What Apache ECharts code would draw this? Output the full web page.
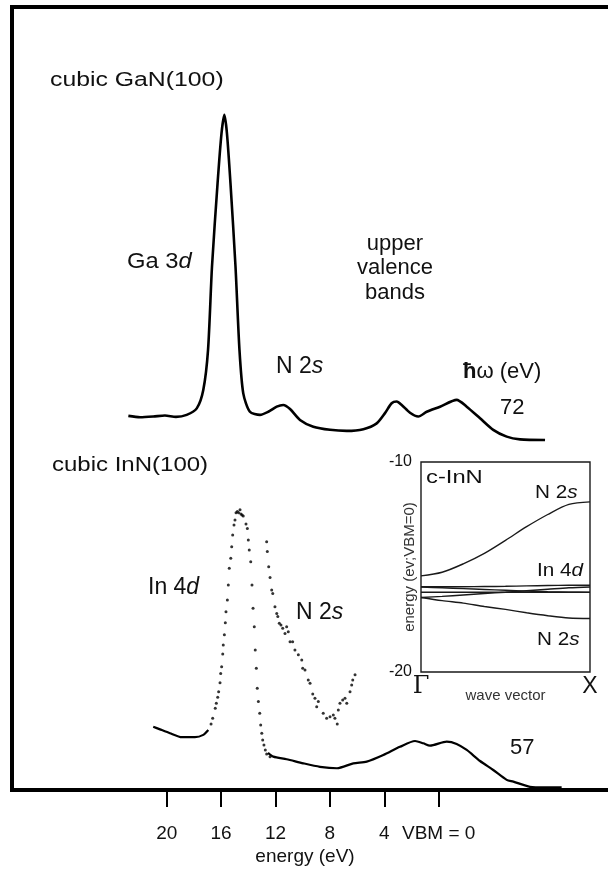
<!DOCTYPE html>
<html>
<head>
<meta charset="utf-8">
<script src="https://cdn.jsdelivr.net/npm/echarts@6/dist/echarts.min.js"></script>
<style>
html, body { margin: 0; padding: 0; background: #fff; }
#chart { width: 608px; height: 874px; }
</style>
</head>
<body>
<div id="chart"></div>
<script>
const FONT = "'Liberation Sans', Arial, Helvetica, sans-serif";

// Binding-energy axis (eV below the valence band maximum)
const energyTicks = [0, 4, 8, 12, 16, 20];

// cubic GaN(100), photon energy 72 eV
const ganEnergy = [22.82, 21.96, 20.99, 20.13, 19.32, 18.53, 17.79, 17.31, 16.96, 16.67,
  16.26, 15.97, 15.76, 15.57, 15.31, 14.94, 14.65, 14.37, 13.88, 13.14,
  12.53, 11.91, 11.43, 10.93, 10.20, 9.22, 7.99, 6.76, 5.54, 4.56,
  3.95, 3.46, 3.09, 2.72, 2.11, 1.50, 0.88, -0.10, -1.32, -2.06,
  -3.04, -4.01, -5.00, -5.98, -7.82];
const ganCounts = [9.9, 9.5, 9.7, 10.0, 9.6, 10.2, 12.1, 17.5, 29.3, 53.7,
  78.2, 92.9, 98.3, 92.9, 78.2, 53.7, 29.3, 16.5, 11.1, 10.2,
  11.1, 12.6, 13.1, 11.9, 8.7, 6.7, 5.8, 5.5, 6.0, 7.7,
  10.7, 13.6, 14.1, 13.1, 10.8, 9.7, 11.1, 12.6, 14.6, 12.6,
  9.2, 5.8, 3.8, 3.0, 2.8];

// cubic InN(100), photon energy 57 eV: baseline before the In 4d peak
const innLowEnergy = [20.99, 20.49, 19.76, 18.90, 17.92, 17.31, 16.94];
const innLowCounts = [21.8, 20.9, 19.6, 18.2, 18.2, 19.0, 20.7];

// In 4d peak (individual points)
const innPeakEnergy = [16.74, 16.62, 16.43, 16.35, 16.25, 16.18, 16.08, 16.03, 15.96, 15.88,
  15.84, 15.76, 15.69, 15.64, 15.54, 15.47, 15.40, 15.29, 15.22, 15.15,
  15.05, 14.98, 14.90, 14.81, 14.71, 14.61, 14.54, 14.46, 14.37, 14.17,
  14.07, 14.00, 13.93, 13.82, 13.73, 13.65, 13.56, 13.49, 13.41, 13.34,
  13.26, 13.16, 13.09, 13.01, 12.94, 12.85, 12.75, 12.65, 12.40];
const innPeakCounts = [22.8, 24.7, 28.2, 29.9, 32.0, 33.9, 37.0, 40.2, 42.5, 46.9,
  50.0, 53.5, 57.7, 61.5, 65.5, 70.7, 76.5, 79.9, 83.9, 87.9,
  91.4, 93.1, 95.6, 96.0, 95.6, 96.6, 95.2, 94.8, 94.5, 91.7,
  90.2, 86.2, 82.8, 78.7, 70.7, 62.7, 56.3, 48.3, 42.0, 35.1,
  30.5, 26.5, 22.4, 19.6, 17.2, 15.5, 13.8, 12.4, 11.5];

// Baseline and upper valence bands after the peak
const innHighEnergy = [12.55, 12.16, 11.18, 9.96, 8.73, 7.48, 6.28, 5.29, 4.07, 2.85,
  1.74, 1.13, 0.64, -0.59, -1.32, -2.06, -3.04, -4.01, -5.00, -5.49,
  -6.71, -7.82, -9.04];
const innHighCounts = [12.8, 11.5, 10.6, 9.2, 8.0, 7.5, 9.2, 9.8, 12.1, 14.9,
  16.9, 16.1, 15.3, 16.7, 15.9, 13.8, 10.0, 6.9, 3.5, 2.9,
  1.1, 0.9, 0.9];

// N 2s region, magnified trace
const n2sEnergy = [12.65, 12.60, 12.50, 12.40, 12.28, 12.20, 12.04, 11.91, 11.83, 11.72,
  11.60, 11.47, 11.30, 11.18, 11.06, 10.93, 10.74, 10.57, 10.32, 10.07,
  10.00, 9.83, 9.59, 9.46, 9.26, 9.10, 8.97, 8.85, 8.49, 8.24,
  7.99, 7.75, 7.63, 7.46, 7.38, 7.26, 7.06, 6.89, 6.76, 6.52,
  6.40, 6.32, 6.15];
const n2sCounts = [85.6, 82.2, 77.0, 73.3, 69.0, 67.8, 63.2, 60.9, 59.8, 57.5,
  56.9, 55.8, 54.0, 56.3, 54.6, 51.1, 51.1, 48.3, 46.6, 44.8,
  42.0, 41.4, 37.9, 36.8, 33.1, 31.6, 28.7, 30.5, 26.5, 24.7,
  25.3, 25.9, 24.7, 22.8, 27.6, 29.9, 31.0, 31.6, 29.9, 33.9,
  36.2, 37.9, 39.7];

// c-InN band structure along Gamma-X (energies in eV, VBM = 0)
const waveVector = [0, 0.125, 0.25, 0.375, 0.5, 0.625, 0.75, 0.875, 1];
const bandN2sUpper = [-15.42, -15.25, -14.85, -14.35, -13.73, -13.08, -12.50, -12.02, -11.90];
const bandIn4dA = [-15.94, -15.94, -15.94, -15.93, -15.92, -15.90, -15.88, -15.87, -15.87];
const bandIn4dB = [-16.20, -16.20, -16.20, -16.20, -16.20, -16.20, -16.20, -16.20, -16.20];
const bandIn4dC = [-16.45, -16.40, -16.33, -16.26, -16.20, -16.13, -16.06, -15.99, -15.95];
const bandIn4dD = [-15.96, -15.99, -16.03, -16.07, -16.11, -16.15, -16.18, -16.20, -16.21];
const bandN2sLower = [-16.45, -16.60, -16.72, -16.88, -17.02, -17.18, -17.32, -17.43, -17.45];

const zip = (xs, ys) => xs.map((x, i) => [x, ys[i]]);

function bandSeries(values) {
  return {
    type: 'line', xAxisIndex: 1, yAxisIndex: 2, data: zip(waveVector, values),
    smooth: 0.3, showSymbol: false, silent: true,
    lineStyle: { color: '#1a1a1a', width: 1.4 }
  };
}

function text(str, x, y, size, opts) {
  opts = opts || {};
  return {
    type: 'text', x: x, y: y, silent: true, z: 100,
    scaleX: opts.scaleX || 1,
    style: {
      text: str,
      fontFamily: FONT,
      fontSize: size,
      fill: opts.color || '#111',
      align: opts.align || 'left',
      verticalAlign: 'middle',
      lineHeight: opts.lineHeight,
      rich: {
        i: { fontFamily: FONT, fontSize: size, fontStyle: 'italic', fill: opts.color || '#111' },
        b: { fontFamily: FONT, fontSize: size, fontWeight: 'bold', fill: opts.color || '#111' }
      }
    }
  };
}

const chart = echarts.init(document.getElementById('chart'), null, { renderer: 'canvas' });

chart.setOption({
  animation: false,
  backgroundColor: '#fff',
  grid: [
    { left: 12, top: 7, width: 600, height: 783, show: true, borderColor: '#000', borderWidth: 4,
      backgroundColor: 'transparent', containLabel: false, outerBoundsMode: 'none' },
    { left: 421, top: 462, width: 169, height: 210, show: true, borderColor: '#1a1a1a', borderWidth: 1.4,
      backgroundColor: '#fff', containLabel: false, outerBoundsMode: 'none' }
  ],
  xAxis: [
    {
      type: 'value', gridIndex: 0, inverse: true, min: -12.743, max: 31.375,
      splitLine: { show: false },
      axisLine: { show: false, onZero: false },
      axisTick: { show: true, inside: false, length: 17, customValues: energyTicks, lineStyle: { color: '#000', width: 2 } },
      axisLabel: {
        show: true, customValues: energyTicks, margin: 34,
        fontFamily: FONT, fontSize: 19, color: '#111',
        formatter: v => (v === 0 ? 'VBM = 0' : String(v))
      },
      name: 'energy (eV)', nameLocation: 'middle', nameGap: 57, nameMoveOverlap: false,
      nameTextStyle: { fontFamily: FONT, fontSize: 19, color: '#111', padding: [0, 14, 0, 0] }
    },
    {
      type: 'value', gridIndex: 1, min: 0, max: 1,
      splitLine: { show: false }, axisLine: { show: false, onZero: false }, axisTick: { show: false },
      axisLabel: {
        show: true, customValues: [0, 1], margin: 3,
        formatter: v => (v === 0 ? '{g|Γ}' : '{x|X}'),
        rich: {
          g: { fontFamily: "'DejaVu Serif', 'Liberation Serif', serif", fontSize: 24, color: '#111' },
          x: { fontFamily: FONT, fontSize: 23, color: '#111' }
        }
      },
      name: 'wave vector', nameLocation: 'middle', nameGap: 16, nameMoveOverlap: false,
      nameTextStyle: { fontFamily: FONT, fontSize: 15, color: '#333' }
    }
  ],
  yAxis: [
    { type: 'value', gridIndex: 0, min: -100, max: 130, show: false },
    { type: 'value', gridIndex: 0, min: 0, max: 270, show: false },
    {
      type: 'value', gridIndex: 1, min: -20, max: -10, interval: 10,
      splitLine: { show: false }, axisLine: { show: false, onZero: false }, axisTick: { show: false },
      axisLabel: { show: true, margin: 9, fontFamily: FONT, fontSize: 16, color: '#111' },
      name: 'energy (ev;VBM=0)', nameLocation: 'middle', nameRotate: 90, nameGap: 4, nameMoveOverlap: false,
      nameTextStyle: { fontFamily: FONT, fontSize: 15, color: '#333' }
    }
  ],
  series: [
    {
      name: 'GaN', type: 'line', xAxisIndex: 0, yAxisIndex: 0,
      data: zip(ganEnergy, ganCounts), smooth: 0.25, showSymbol: false, silent: true,
      lineStyle: { color: '#000', width: 2.6 }
    },
    {
      name: 'InN low', type: 'line', xAxisIndex: 0, yAxisIndex: 1,
      data: zip(innLowEnergy, innLowCounts), smooth: 0.2, showSymbol: false, silent: true,
      lineStyle: { color: '#000', width: 2.2 }
    },
    {
      name: 'InN peak', type: 'scatter', xAxisIndex: 0, yAxisIndex: 1,
      data: zip(innPeakEnergy, innPeakCounts), symbol: 'circle', symbolSize: 3, silent: true,
      itemStyle: { color: '#000' }
    },
    {
      name: 'InN high', type: 'line', xAxisIndex: 0, yAxisIndex: 1,
      data: zip(innHighEnergy, innHighCounts), smooth: 0.25, showSymbol: false, silent: true,
      lineStyle: { color: '#000', width: 2.2 }
    },
    {
      name: 'N 2s magnified', type: 'scatter', xAxisIndex: 0, yAxisIndex: 1,
      data: zip(n2sEnergy, n2sCounts), symbol: 'circle', symbolSize: 3, silent: true,
      itemStyle: { color: '#000' }
    },
    bandSeries(bandN2sUpper),
    bandSeries(bandIn4dA),
    bandSeries(bandIn4dB),
    bandSeries(bandIn4dC),
    bandSeries(bandIn4dD),
    bandSeries(bandN2sLower)
  ],
  graphic: [
    text('cubic GaN(100)', 50, 80, 20, { scaleX: 1.24 }),
    text('Ga 3{i|d}', 127, 262, 22, { scaleX: 1.08 }),
    text('upper\nvalence\nbands', 395, 268, 22, { align: 'center', lineHeight: 24.5 }),
    text('N 2{i|s}', 276, 367, 23),
    text('{b|ħ}ω (eV)', 463, 372, 22),
    text('72', 500, 408, 22),
    text('cubic InN(100)', 52, 465, 20, { scaleX: 1.2 }),
    text('In 4{i|d}', 148, 588, 23),
    text('N 2{i|s}', 296, 613, 23),
    text('57', 510, 748, 22),
    text('c-InN', 426, 478, 19, { scaleX: 1.25 }),
    text('N 2{i|s}', 535, 493, 18, { scaleX: 1.15 }),
    text('In 4{i|d}', 537, 571, 18, { scaleX: 1.15 }),
    text('N 2{i|s}', 537, 640, 18, { scaleX: 1.15 })
  ]
});
</script>
</body>
</html>
